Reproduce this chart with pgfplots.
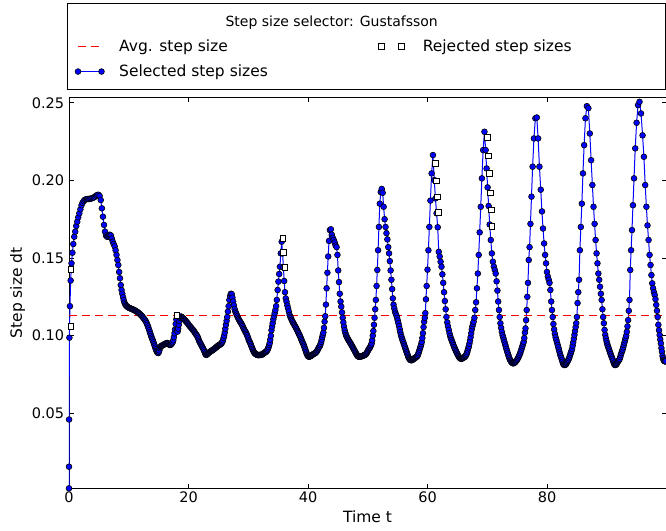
\documentclass[border=0pt]{standalone}
\usepackage{pgfplots}
\pgfplotsset{compat=1.18}
\usepackage{fontspec}
\setmainfont{DejaVu Sans}
\definecolor{mplblue}{rgb}{0,0,1}
\begin{document}
\begin{tikzpicture}
\begin{axis}[
  name=ax,
  scale only axis, width=597pt, height=391pt,
  xmin=0, xmax=99.9, ymin=0.0017, ymax=0.2535,
  xtick={0,20,40,60,80}, ytick={0.05,0.10,0.15,0.20,0.25},
  tick align=inside, major tick length=4.5pt,
  tick style={black, line width=0.6pt},
  axis line style={black, line width=0.8pt},
  /pgf/number format/assume math mode=true,
  scaled y ticks=false,
  ticklabel style={font=\fontsize{14.5}{17}\selectfont},
  yticklabel style={/pgf/number format/fixed, /pgf/number format/fixed zerofill, /pgf/number format/precision=2, anchor=east, inner sep=0pt, xshift=-4.7pt},
  xticklabel style={anchor=north, inner sep=0pt, yshift=-3.4pt},
  xlabel={Time t}, ylabel={Step size dt},
  label style={font=\fontsize{15.5}{18}\selectfont},
  xlabel style={at={(axis description cs:0.5,-0.0887)}, anchor=base},
  ylabel style={at={(axis description cs:-0.0863,0.5)}, anchor=center},
  legend columns=2, legend cell align=left,
  legend style={draw=none, fill=none, inner sep=0pt, outer sep=0pt,
    at={(0.01005,1.1475)}, anchor=north west,
    font=\fontsize{15.5}{18}\selectfont, row sep=12pt,
    nodes={inner sep=0pt},
    /tikz/every odd column/.append style={column sep=14.7pt}},
]
\addlegendimage{legend image code/.code={\path[draw=none, fill=none] (-3pt,-3pt) rectangle (26.5pt,3pt); \draw[red, line width=1.2pt, dash pattern=on 8pt off 5pt] (0pt,0pt) -- (22pt,0pt);}}
\addlegendentry{\makebox[259.4pt][l]{Avg. step size}}
\addlegendimage{legend image code/.code={\path[draw=none, fill=none] (-3pt,-3pt) rectangle (26.5pt,3pt); \draw[black, line width=0.6pt, fill=white, solid] plot[only marks, mark=square*, mark size=2.85pt] coordinates {(0pt,0pt) (20pt,0pt)};}}
\addlegendentry{Rejected step sizes}
\addlegendimage{legend image code/.code={\path[draw=none, fill=none] (-3pt,-3pt) rectangle (26.5pt,3pt); \draw[mplblue, line width=1pt, solid, mark=*, mark size=2.9pt, mark options={fill=mplblue, draw=black, line width=0.6pt}] plot coordinates {(0pt,0pt) (23.5pt,0pt)};}}
\addlegendentry{\makebox[259.4pt][l]{Selected step sizes}}

\addplot[mplblue, line width=1pt, mark=*, mark size=2.9pt, mark options={fill=mplblue, draw=black, line width=0.6pt, solid}, forget plot] coordinates {
(0,0.0017) (0.002,0.0156) (0.018,0.046) (0.064,0.0987) (0.16,0.119) (0.28,0.1355) (0.42,0.1466) (0.57,0.1534) (0.72,0.159) (0.88,0.1637) (1.04,0.167) (1.21,0.1706) (1.38,0.1734) (1.55,0.1762) (1.73,0.1788) (1.91,0.1814) (2.09,0.184) (2.27,0.1856) (2.46,0.1867) (2.65,0.1875) (2.84,0.1878) (3.03,0.188) (3.22,0.188) (3.41,0.1881) (3.6,0.1882) (3.79,0.1884) (3.98,0.1887) (4.17,0.189) (4.36,0.1895) (4.55,0.1902) (4.74,0.1906) (4.93,0.1907) (5.12,0.19) (5.31,0.1873) (5.5,0.182) (5.68,0.1766) (5.86,0.1713) (6.03,0.167) (6.2,0.1645) (6.36,0.1637) (6.52,0.1637) (6.68,0.1643) (6.84,0.165) (7.0,0.1645) (7.16,0.1625) (7.32,0.1605) (7.48,0.159) (7.64,0.1575) (7.8,0.155) (7.95,0.152) (8.1,0.1487) (8.25,0.1455) (8.39,0.141) (8.53,0.137) (8.66,0.1326) (8.79,0.1294) (8.92,0.127) (9.05,0.1247) (9.17,0.1228) (9.29,0.1212) (9.41,0.1202) (9.53,0.1195) (9.65,0.119) (9.77,0.1186) (9.89,0.1183) (10.01,0.118) (10.13,0.1178) (10.25,0.1176) (10.37,0.1174) (10.49,0.1172) (10.61,0.117) (10.73,0.1168) (10.85,0.1166) (10.97,0.1164) (11.09,0.1161) (11.21,0.1158) (11.33,0.1155) (11.45,0.1152) (11.57,0.1149) (11.69,0.1145) (11.81,0.1141) (11.93,0.1137) (12.05,0.1132) (12.17,0.1127) (12.29,0.1122) (12.41,0.1116) (12.53,0.111) (12.65,0.1104) (12.77,0.1097) (12.89,0.109) (13.0,0.108) (13.11,0.107) (13.22,0.1059) (13.33,0.1047) (13.44,0.1035) (13.54,0.1022) (13.64,0.101) (13.74,0.0998) (13.84,0.0988) (13.94,0.0978) (14.04,0.0968) (14.14,0.0957) (14.24,0.0945) (14.34,0.0935) (14.44,0.0923) (14.54,0.0912) (14.64,0.0902) (14.74,0.0895) (14.84,0.089)
(14.94,0.0888) (15.03,0.0895) (15.12,0.0905) (15.21,0.092) (15.3,0.0928) (15.39,0.0932) (15.48,0.0934) (15.57,0.0936) (15.66,0.0938) (15.75,0.094) (15.85,0.0942) (15.95,0.0944) (16.05,0.0946) (16.15,0.0948) (16.25,0.095) (16.35,0.0952) (16.45,0.0953) (16.55,0.0951) (16.65,0.0948) (16.75,0.0944) (16.85,0.094) (16.95,0.094) (17.05,0.0943) (17.15,0.0947) (17.25,0.0952) (17.35,0.0958) (17.45,0.097) (17.55,0.099) (17.65,0.1015) (17.75,0.104) (17.85,0.1075) (17.96,0.1105) (18.07,0.104) (18.17,0.1026) (18.27,0.1045) (18.37,0.107) (18.48,0.1095) (18.59,0.1115) (18.7,0.1123) (18.81,0.1122) (18.92,0.1118) (19.03,0.1114) (19.14,0.111) (19.25,0.1106) (19.36,0.1102) (19.47,0.1097) (19.58,0.1092) (19.69,0.1087) (19.8,0.1082) (19.91,0.1077) (20.02,0.1071) (20.13,0.1065) (20.24,0.106) (20.35,0.1055) (20.46,0.105) (20.57,0.1045) (20.68,0.104) (20.79,0.1035) (20.89,0.103) (20.99,0.1024) (21.09,0.1018) (21.19,0.1012) (21.29,0.1007) (21.39,0.1002) (21.49,0.0995) (21.59,0.0986) (21.69,0.0975) (21.79,0.0965) (21.89,0.0958) (21.99,0.095) (22.09,0.0943) (22.19,0.0935) (22.29,0.0928) (22.39,0.0921) (22.49,0.0914) (22.59,0.0905) (22.69,0.0895) (22.79,0.0885) (22.89,0.0878) (22.98,0.0876)
(23.07,0.0878) (23.16,0.0882) (23.25,0.0885) (23.34,0.0888) (23.43,0.0891) (23.52,0.0894) (23.61,0.0897) (23.7,0.0899) (23.79,0.0901) (23.88,0.0903) (23.97,0.0905) (24.06,0.0908) (24.15,0.091) (24.24,0.0913) (24.33,0.0916) (24.42,0.0918) (24.51,0.0921) (24.6,0.0924) (24.69,0.0927) (24.78,0.093) (24.87,0.0933) (24.96,0.0936) (25.05,0.0938) (25.14,0.094) (25.23,0.0942) (25.32,0.0944) (25.41,0.0946) (25.5,0.095) (25.59,0.0955) (25.68,0.0962) (25.77,0.097) (25.86,0.0985) (25.96,0.1) (26.06,0.102) (26.16,0.1045) (26.26,0.107) (26.37,0.1095) (26.48,0.112) (26.59,0.1155) (26.71,0.119) (26.83,0.123) (26.96,0.1255) (27.09,0.127) (27.22,0.1268) (27.35,0.1245) (27.47,0.122) (27.59,0.1195) (27.71,0.1172) (27.83,0.1155) (27.95,0.1145) (28.06,0.1135) (28.17,0.1125) (28.28,0.1115) (28.39,0.1107) (28.5,0.1099) (28.61,0.1092) (28.72,0.1085) (28.83,0.1078) (28.94,0.107) (29.05,0.1062) (29.16,0.1052) (29.27,0.1043) (29.38,0.1035) (29.49,0.1027) (29.6,0.102) (29.7,0.1012) (29.8,0.1003) (29.9,0.0993) (30.0,0.0982) (30.1,0.097) (30.2,0.0962) (30.3,0.0955) (30.4,0.0945) (30.5,0.0935) (30.6,0.0925) (30.7,0.0915) (30.8,0.0906) (30.89,0.0898) (30.98,0.0892) (31.07,0.0887) (31.16,0.0884) (31.25,0.0881) (31.34,0.0879) (31.43,0.0877) (31.52,0.0876) (31.61,0.0875) (31.7,0.0875) (31.79,0.0875) (31.88,0.0876) (31.97,0.0876) (32.06,0.0876) (32.15,0.0876) (32.24,0.0877) (32.33,0.0879) (32.42,0.0881) (32.51,0.0884) (32.6,0.0887) (32.69,0.089) (32.78,0.0892) (32.87,0.0894) (32.96,0.0896) (33.05,0.0899) (33.14,0.0903) (33.23,0.091) (33.32,0.0918) (33.41,0.0928) (33.5,0.094) (33.59,0.0953) (33.68,0.0975) (33.78,0.1) (33.88,0.1035) (33.98,0.1058) (34.08,0.108) (34.19,0.1105) (34.3,0.1125) (34.42,0.1145) (34.54,0.1165) (34.66,0.119) (34.78,0.123) (34.91,0.1294) (35.04,0.1348) (35.17,0.1397) (35.3,0.1444) (35.44,0.153) (35.59,0.1605) (35.74,0.153) (35.88,0.144) (36.01,0.1352) (36.14,0.128) (36.27,0.124) (36.4,0.1219) (36.53,0.1195) (36.66,0.1176) (36.79,0.1155) (36.92,0.1133)
(37.04,0.1122) (37.15,0.1112) (37.26,0.1102) (37.37,0.1093) (37.48,0.1085) (37.59,0.1077) (37.7,0.107) (37.81,0.1062) (37.92,0.1055) (38.03,0.1047) (38.13,0.1039) (38.23,0.1031) (38.33,0.1023) (38.43,0.1015) (38.53,0.1007) (38.63,0.0999) (38.73,0.099) (38.83,0.098) (38.93,0.097) (39.03,0.0961) (39.13,0.0953) (39.23,0.0944) (39.32,0.0935) (39.41,0.0925) (39.5,0.0915) (39.59,0.0905) (39.68,0.0895) (39.77,0.0885) (39.86,0.0877) (39.95,0.087) (40.04,0.0866) (40.13,0.0865) (40.22,0.0865) (40.31,0.0866) (40.4,0.0868) (40.49,0.087) (40.58,0.0872) (40.67,0.0875) (40.76,0.0878) (40.85,0.088) (40.94,0.0882) (41.03,0.0884) (41.12,0.0886) (41.21,0.0888) (41.3,0.0891) (41.39,0.0895) (41.48,0.09) (41.57,0.0906) (41.66,0.0913) (41.75,0.092) (41.84,0.0926) (41.93,0.093) (42.02,0.0938) (42.11,0.0948) (42.2,0.096) (42.29,0.0975) (42.38,0.099) (42.47,0.1005) (42.57,0.102) (42.67,0.105) (42.77,0.109) (42.88,0.1125) (42.99,0.12) (43.11,0.1305) (43.24,0.1405) (43.37,0.151) (43.51,0.161) (43.66,0.168) (43.82,0.1685) (43.98,0.165) (44.14,0.163) (44.3,0.1616) (44.46,0.16) (44.62,0.158) (44.78,0.157) (44.92,0.152) (45.05,0.142) (45.18,0.1345) (45.31,0.127) (45.44,0.122) (45.56,0.1187) (45.68,0.115) (45.8,0.1115) (45.91,0.1085) (46.02,0.1058) (46.13,0.1035) (46.24,0.1018) (46.35,0.1004) (46.45,0.0995) (46.55,0.0987) (46.65,0.098) (46.75,0.0973) (46.85,0.0966) (46.95,0.096) (47.05,0.0954) (47.15,0.0948) (47.25,0.0941) (47.35,0.0934) (47.45,0.0927) (47.55,0.092) (47.65,0.0913) (47.75,0.0906) (47.85,0.0899) (47.94,0.0892) (48.03,0.0886) (48.12,0.088) (48.21,0.0874) (48.3,0.0869) (48.39,0.0866) (48.48,0.0865) (48.57,0.0864) (48.66,0.0864) (48.75,0.0865) (48.84,0.0866) (48.93,0.0867) (49.02,0.0868) (49.11,0.087) (49.2,0.0871) (49.29,0.0872) (49.38,0.0874) (49.47,0.0875) (49.56,0.0877) (49.65,0.088) (49.74,0.0884) (49.83,0.0889) (49.92,0.0895) (50.01,0.0902) (50.1,0.0909) (50.19,0.0915) (50.28,0.092) (50.37,0.0925) (50.46,0.0932) (50.55,0.094) (50.64,0.095) (50.73,0.097) (50.83,0.1) (50.93,0.103) (51.03,0.107) (51.13,0.1115) (51.24,0.117) (51.35,0.123) (51.47,0.132) (51.59,0.1423) (51.72,0.155) (51.86,0.17) (52.01,0.185) (52.17,0.1925) (52.33,0.1945) (52.49,0.192) (52.65,0.183) (52.81,0.175) (52.97,0.17) (53.12,0.166) (53.27,0.162) (53.42,0.157) (53.56,0.153) (53.69,0.148) (53.82,0.142) (53.95,0.136) (54.07,0.13) (54.19,0.124) (54.31,0.12) (54.43,0.1175) (54.55,0.1155) (54.67,0.1142) (54.79,0.113) (54.9,0.1115) (55.01,0.1098) (55.12,0.108) (55.23,0.1062) (55.34,0.1042) (55.44,0.1022) (55.54,0.1005) (55.64,0.0992) (55.74,0.098) (55.84,0.0968) (55.94,0.0957) (56.04,0.0946) (56.14,0.0935) (56.24,0.0924) (56.33,0.0913) (56.42,0.0903) (56.51,0.0893) (56.6,0.0883) (56.69,0.0873) (56.78,0.0864) (56.87,0.0856) (56.96,0.085) (57.05,0.0846) (57.14,0.0843) (57.23,0.0842) (57.32,0.0842) (57.41,0.0843) (57.5,0.0845) (57.59,0.0848) (57.68,0.085) (57.77,0.0853) (57.86,0.0856) (57.95,0.0858) (58.04,0.086) (58.13,0.0863) (58.22,0.0866) (58.31,0.087) (58.4,0.0878) (58.49,0.0888) (58.58,0.0898) (58.67,0.091) (58.76,0.0922) (58.85,0.0932) (58.94,0.0945) (59.03,0.096) (59.13,0.0985) (59.23,0.1016) (59.33,0.1055) (59.43,0.109) (59.53,0.1115) (59.63,0.1145) (59.73,0.1234) (59.85,0.132) (59.99,0.1425) (60.14,0.155) (60.3,0.17) (60.48,0.187) (60.68,0.2045) (60.9,0.2163) (61.12,0.2002) (61.32,0.1884) (61.51,0.1788) (61.7,0.1698) (61.87,0.154) (62.03,0.151) (62.18,0.1476) (62.33,0.1444) (62.48,0.1395) (62.62,0.134) (62.76,0.128) (62.9,0.1223) (63.03,0.117) (63.16,0.112) (63.29,0.1085) (63.42,0.106) (63.55,0.1037)
(63.67,0.1015) (63.79,0.0997) (63.9,0.0983) (64.01,0.0972) (64.12,0.0961) (64.23,0.095) (64.34,0.0938) (64.45,0.0927) (64.56,0.0917) (64.67,0.0908) (64.77,0.0899) (64.87,0.0891) (64.97,0.0883) (65.07,0.0876) (65.17,0.0869) (65.27,0.0862) (65.37,0.0857) (65.46,0.0854) (65.55,0.0852) (65.64,0.0851) (65.73,0.0852) (65.82,0.0854) (65.91,0.0856) (66.0,0.0858) (66.09,0.086) (66.18,0.0862) (66.27,0.0865) (66.36,0.0869) (66.45,0.0875) (66.54,0.0883) (66.63,0.0893) (66.72,0.0905) (66.81,0.0918) (66.9,0.093) (67.0,0.0948) (67.1,0.0968) (67.2,0.099) (67.3,0.1015) (67.4,0.104) (67.5,0.106) (67.6,0.1075) (67.71,0.109) (67.84,0.1115) (67.98,0.1165) (68.12,0.1215) (68.26,0.1305) (68.41,0.14) (68.56,0.152) (68.72,0.1665) (68.9,0.183) (69.09,0.2013) (69.3,0.2195) (69.52,0.2313) (69.72,0.2195) (69.88,0.2077) (70.05,0.1955) (70.22,0.1835) (70.4,0.1716) (70.58,0.1616) (70.76,0.153) (70.93,0.1476) (71.09,0.1445) (71.25,0.1423) (71.4,0.14) (71.55,0.135) (71.69,0.129) (71.82,0.122) (71.95,0.1165) (72.07,0.112) (72.19,0.108) (72.31,0.105) (72.43,0.1025) (72.55,0.1003) (72.66,0.0988) (72.77,0.0973) (72.88,0.0958) (72.99,0.0943) (73.09,0.093) (73.19,0.0915) (73.29,0.0902) (73.39,0.089) (73.49,0.0878) (73.59,0.0866) (73.69,0.0855) (73.79,0.0846) (73.89,0.0838) (73.99,0.0832) (74.09,0.0827) (74.19,0.0824) (74.29,0.0822) (74.39,0.0822) (74.49,0.0824) (74.59,0.0827) (74.69,0.083) (74.79,0.0835) (74.89,0.084) (74.99,0.0845) (75.09,0.0852) (75.19,0.086) (75.29,0.0868) (75.39,0.0877) (75.49,0.0886) (75.59,0.0898) (75.69,0.091) (75.79,0.0923) (75.89,0.0935) (75.99,0.0948) (76.09,0.096) (76.19,0.0985) (76.29,0.102) (76.39,0.1047) (76.49,0.11) (76.59,0.1165) (76.69,0.125) (76.8,0.134) (76.93,0.1487) (77.07,0.157) (77.22,0.172) (77.39,0.1895) (77.58,0.2088) (77.8,0.227) (78.04,0.24) (78.28,0.2405) (78.5,0.227) (78.72,0.2088) (78.94,0.194) (79.14,0.18) (79.32,0.169) (79.5,0.1594) (79.67,0.152) (79.83,0.1466) (79.98,0.141) (80.13,0.138) (80.27,0.136) (80.41,0.134) (80.55,0.1294) (80.69,0.122) (80.82,0.1165) (80.94,0.112) (81.06,0.1075) (81.18,0.104) (81.3,0.1012) (81.42,0.099) (81.54,0.0973) (81.66,0.0956) (81.78,0.094) (81.88,0.0925) (81.98,0.091) (82.08,0.0895) (82.18,0.088) (82.28,0.0868) (82.38,0.0857) (82.48,0.0845) (82.58,0.0832) (82.68,0.082) (82.78,0.0814) (82.88,0.0811) (82.98,0.0811) (83.08,0.0813) (83.18,0.0817) (83.28,0.0824) (83.38,0.0831) (83.48,0.0838) (83.58,0.0845) (83.68,0.0855) (83.78,0.0866) (83.88,0.0878) (83.98,0.089) (84.08,0.0902) (84.18,0.0915) (84.28,0.0935) (84.38,0.0957) (84.48,0.098) (84.58,0.1005) (84.68,0.103) (84.78,0.1055) (84.88,0.108) (84.99,0.112) (85.1,0.121) (85.22,0.128) (85.35,0.136) (85.49,0.155) (85.65,0.17) (85.82,0.185) (86.0,0.2045) (86.2,0.2227) (86.42,0.24) (86.66,0.2478) (86.91,0.2465) (87.15,0.2302) (87.37,0.213) (87.58,0.197) (87.77,0.183) (87.95,0.172) (88.12,0.1616) (88.28,0.153) (88.43,0.1466) (88.58,0.14) (88.72,0.136) (88.86,0.1315) (89.0,0.127) (89.13,0.123) (89.26,0.117) (89.38,0.112) (89.5,0.108) (89.62,0.1037) (89.73,0.1005) (89.84,0.0983) (89.94,0.0965) (90.04,0.095) (90.14,0.0937) (90.24,0.0925) (90.34,0.0915) (90.44,0.0903) (90.54,0.0892) (90.64,0.0881) (90.74,0.087) (90.84,0.086) (90.94,0.085) (91.04,0.0838) (91.14,0.0826) (91.24,0.0816) (91.34,0.0811) (91.44,0.0811) (91.54,0.0813) (91.64,0.0818) (91.74,0.0825) (91.84,0.0832) (91.94,0.0838) (92.04,0.0843) (92.14,0.085) (92.24,0.0862) (92.34,0.0875) (92.44,0.0888) (92.54,0.09) (92.64,0.091) (92.74,0.0925) (92.84,0.094) (92.94,0.0955) (93.04,0.097) (93.14,0.0985) (93.24,0.1) (93.34,0.1025) (93.45,0.106) (93.56,0.11) (93.67,0.116) (93.79,0.123) (93.92,0.1423) (94.06,0.155) (94.21,0.168) (94.37,0.184) (94.55,0.2013) (94.75,0.2206) (94.98,0.2371) (95.22,0.2485) (95.47,0.2506) (95.72,0.2431) (95.98,0.229) (96.2,0.2152) (96.42,0.197) (96.62,0.183) (96.8,0.171) (96.98,0.1616) (97.15,0.152) (97.31,0.1455) (97.46,0.139) (97.6,0.1337) (97.74,0.1305) (97.88,0.128) (98.01,0.1262) (98.14,0.1235) (98.27,0.1198) (98.39,0.116) (98.51,0.112) (98.62,0.107) (98.73,0.1035) (98.84,0.1004) (98.94,0.0975) (99.04,0.095) (99.13,0.092) (99.22,0.0897) (99.31,0.087) (99.4,0.0855) (99.49,0.0843) (99.58,0.0838) (99.67,0.0835) (99.76,0.0834) (99.85,0.0836)
};

\addplot[only marks, mark=square*, mark size=2.85pt, mark options={fill=white, draw=black, line width=0.6pt}, forget plot] coordinates {
(0.3,0.1428) (0.3,0.1062) (18.04,0.1133) (35.79,0.1627) (35.9,0.1537) (36.13,0.144)
(61.25,0.211) (61.42,0.1998) (61.59,0.1895) (61.76,0.1794)
(69.96,0.2277) (70.13,0.2158) (70.35,0.2045) (70.52,0.192) (70.63,0.181) (70.74,0.1706)
};

\addplot[red, line width=1.2pt, dash pattern=on 8pt off 5pt, forget plot] coordinates {(0,0.1131) (99.9,0.1131)};
\end{axis}
\draw[black, line width=0.8pt] ([shift={(-1.7pt,8pt)}]ax.north west) rectangle ([shift={(-0.4pt,94pt)}]ax.north east);
\node[anchor=base, inner sep=0pt, font=\fontsize{14}{16}\selectfont] at ([shift={(262.7pt,70.6pt)}]ax.north west) {Step size selector: Gustafsson};
\pgfresetboundingbox
\path ([shift={(-69pt,-41.7pt)}]ax.south west) rectangle ([shift={(0pt,97.3pt)}]ax.north east);
\end{tikzpicture}
\end{document}
